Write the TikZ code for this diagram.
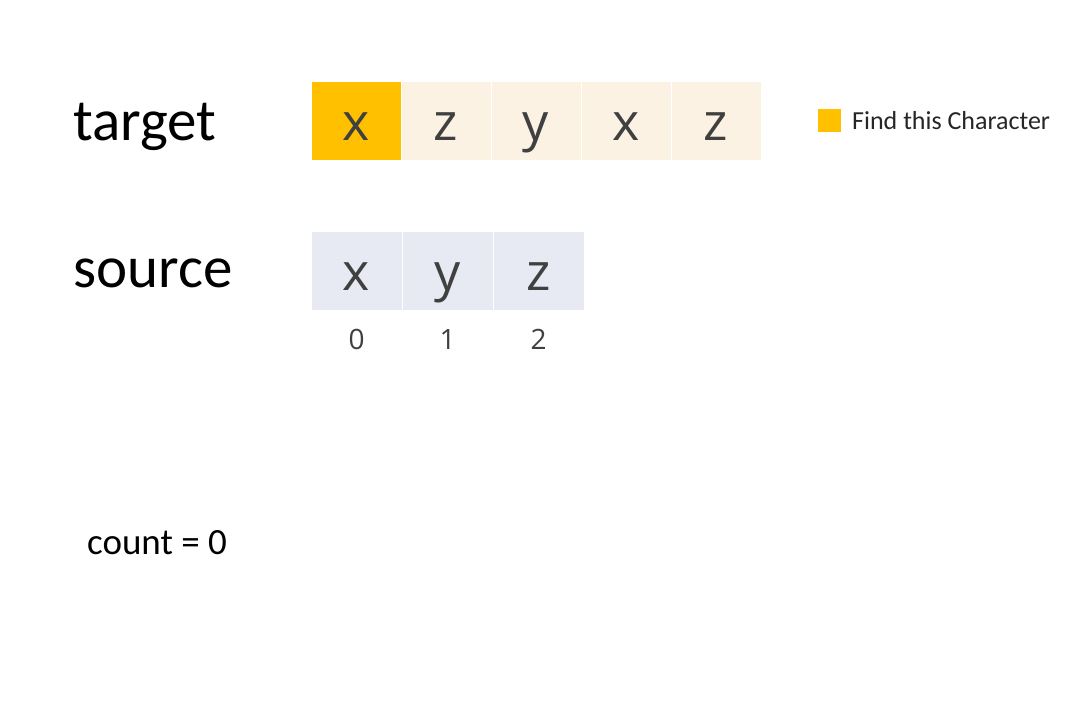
\documentclass[tikz,border=0pt]{standalone}
\usepackage{fontspec}
\setmainfont{Carlito}
\newfontfamily\cellfont{Open Sans}
\begin{document}
\begin{tikzpicture}[x=1pt,y=-1pt,
  tcell/.style={draw=white, line width=0.8pt, fill=tgtbg},
  scell/.style={draw=white, line width=0.8pt, fill=srcbg},
  letter/.style={font=\cellfont\fontsize{52}{52}\selectfont, text=darktext, inner sep=0pt},
  idx/.style={font=\cellfont\fontsize{28}{28}\selectfont, text=darktext, inner sep=0pt},
  big/.style={font=\fontsize{59}{59}\selectfont, inner sep=0pt, anchor=base west}]
\definecolor{tgtbg}{HTML}{FBF2E4}
\definecolor{srcbg}{HTML}{E8EAF3}
\definecolor{hl}{HTML}{FFC000}
\definecolor{darktext}{HTML}{404040}
\useasboundingbox (0,0) rectangle (1073,720);
% target row
\foreach \i/\c in {0/x,1/z,2/y,3/x,4/z}{
  \pgfmathsetmacro{\xa}{311+90*\i}
  \ifnum\i=0
    \path[tcell, fill=hl] (\xa,81) rectangle ++(90,79);
  \else
    \path[tcell] (\xa,81) rectangle ++(90,79);
  \fi
  \node[letter, anchor=base] (t\i) at (\xa+45,140) {\c};
}
% source row
\foreach \i/\c in {0/x,1/y,2/z}{
  \pgfmathsetmacro{\xa}{311+91*\i}
  \path[scell] (\xa,231) rectangle ++(91,79);
  \node[letter, anchor=base] (s\i) at (\xa+45.5,290) {\c};
  \node[idx, anchor=base] (n\i) at (\xa+45.5,349) {\i};
}
\node[big] (target) at (73,140) {target};
\node[big] (source) at (73,287) {source};
\node[font=\fontsize{37}{37}\selectfont, inner sep=0pt, anchor=base west] (count) at (87,554) {count = 0};
\fill[hl] (818,109) rectangle (841,132);
\node[font=\fontsize{26}{26}\selectfont, inner sep=0pt, anchor=base west, text=black!85] (legend) at (852,129) {Find this Character};
\end{tikzpicture}
\end{document}
